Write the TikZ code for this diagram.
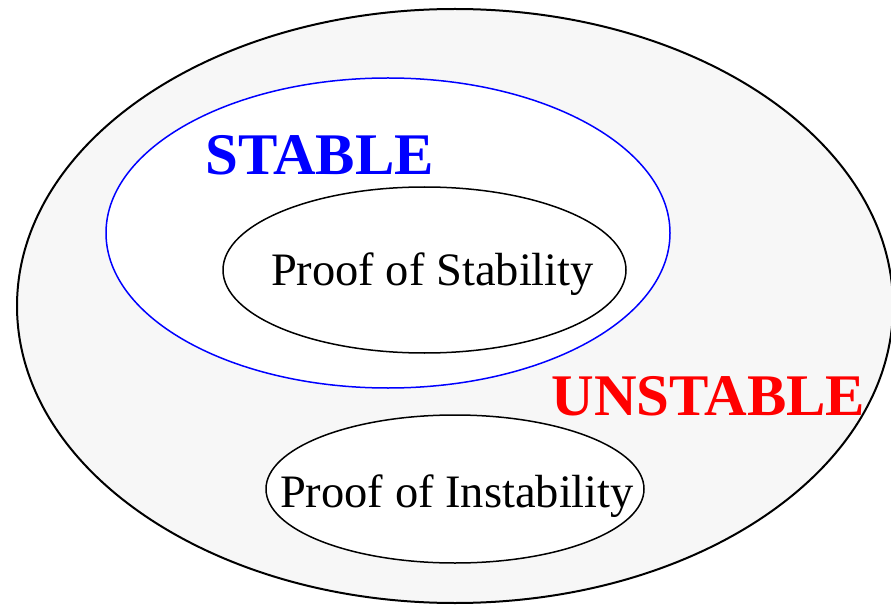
\documentclass[tikz,border=0pt]{standalone}
\usepackage{fontspec}
\setmainfont{Liberation Serif}
\usetikzlibrary{shapes.geometric}
\definecolor{setGray}{HTML}{F7F7F7}
\definecolor{setBlue}{HTML}{0000FF}
\definecolor{setRed}{HTML}{FF0000}

\begin{document}
\begin{tikzpicture}[
  x=1pt,y=1pt,
  region/.style={ellipse, inner sep=0pt, outer sep=0pt, line width=1.5pt,
                 draw=black, fill=white},
  bigword/.style={font=\fontsize{59}{62}\selectfont\bfseries,
                  anchor=base, inner sep=0pt},
  prooftext/.style={font=\fontsize{46.5}{50}\selectfont,
                    anchor=base, inner sep=0pt},
]
  \useasboundingbox (0,0) rectangle (891,606);

  % Outer region: all systems
  \node[region, line width=2pt, fill=setGray, minimum width=876pt,
        minimum height=594pt] (all) at (455,300) {};

  % Stable systems and the ones with a proof
  \node[region, draw=setBlue, minimum width=564pt,
        minimum height=310pt] (stable) at (388,373) {};
  \node[region, minimum width=403pt, minimum height=166pt]
    (stabproof) at (424.5,336) {};
  \node[prooftext] (stablbl) at (432.5,320) {Proof of Stability};
  \node[bigword, text=setBlue] (stabword) at (319.5,431) {STABLE};

  % Unstable systems
  \node[region, minimum width=378pt, minimum height=148pt]
    (instproof) at (455,117) {};
  \node[prooftext] (instlbl) at (457,99) {Proof of Instability};
  \node[bigword, text=setRed] (unstabword) at (708.5,191) {UNSTABLE};
\end{tikzpicture}
\end{document}
